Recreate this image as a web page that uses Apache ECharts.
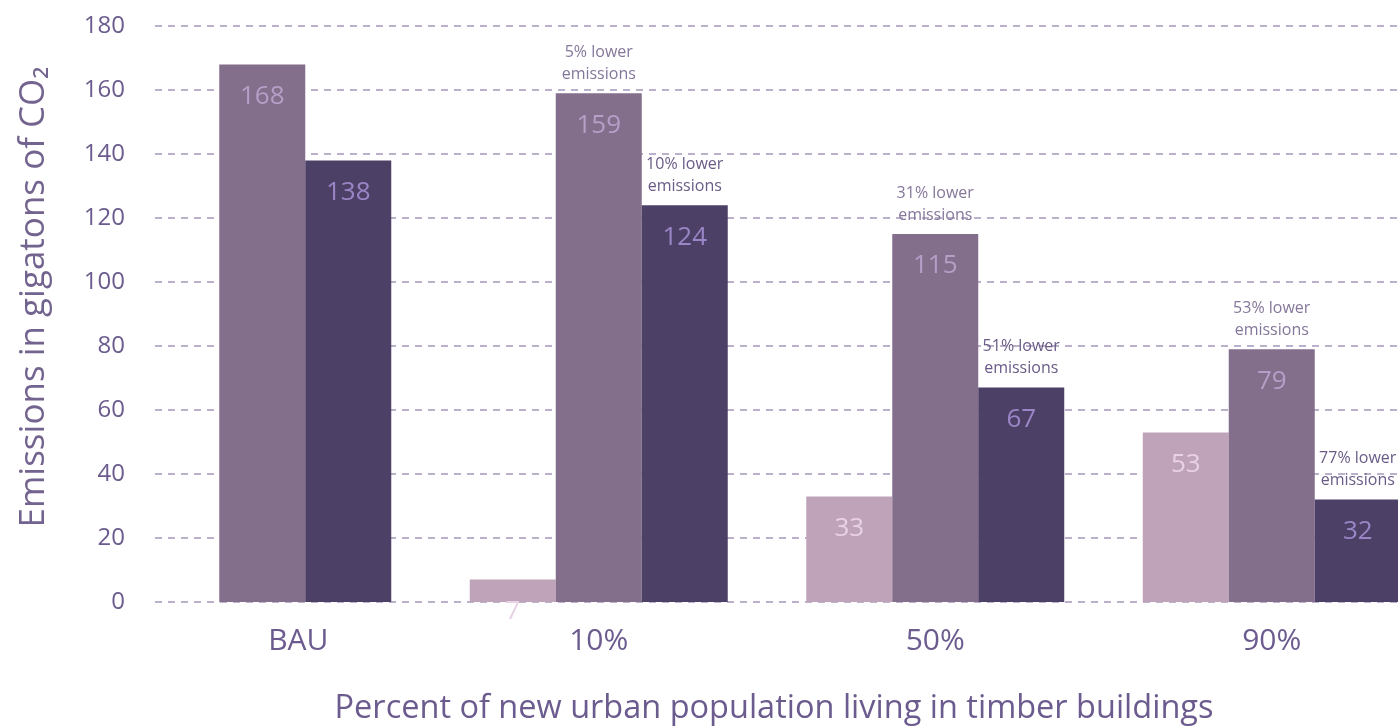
<!DOCTYPE html>
<html>
<head>
<meta charset="utf-8">
<script src="https://cdn.jsdelivr.net/npm/echarts@6/dist/echarts.min.js"></script>
<style>
  html,body{margin:0;padding:0;background:#fff;}
  #chart{width:1398px;height:727px;}
</style>
</head>
<body>
<div id="chart"></div>
<script>
// data
var categories = ['BAU', '10%', '50%', '90%'];
var lightVals  = [null, 7, 33, 53];
var mediumVals = [168, 159, 115, 79];
var darkVals   = [138, 124, 67, 32];
var mediumNotes = ['', '5% lower\nemissions', '31% lower\nemissions', '53% lower\nemissions'];
var darkNotes   = ['', '10% lower\nemissions', '51% lower\nemissions', '77% lower\nemissions'];
var yTicks = [0, 20, 40, 60, 80, 100, 120, 140, 160, 180];

var font = 'Open Sans';
var axisColor = '#6b5b8e';

function valueSeries(name, vals, color, labelColor){
	return {
		name: name,
		type: 'bar',
		xAxisIndex: 0,
		yAxisIndex: 0,
		data: vals,
		barWidth: 86,
		barGap: 0,
		itemStyle: {color: color},
		label: {
			show: true,
			position: 'insideTop',
			distance: 19,
			fontFamily: font,
			fontSize: 26,
			color: labelColor
		},
		z: 3
	};
}

// transparent copies of the bars, on a second hidden axis, only to carry the notes
function noteSeries(vals, notes, color){
	return {
		type: 'bar',
		xAxisIndex: 1,
		yAxisIndex: 0,
		data: vals,
		barWidth: 86,
		barGap: 0,
		silent: true,
		itemStyle: {color: 'rgba(0,0,0,0)'},
		label: {
			show: true,
			position: 'top',
			distance: 8,
			fontFamily: font,
			fontSize: 16,
			lineHeight: 22,
			color: color,
			formatter: function(p){ return notes ? notes[p.dataIndex] : ''; }
		},
		z: 4
	};
}

var chart = echarts.init(document.getElementById('chart'));
var option = {
	animation: false,
	grid: [
		{left: 94, right: -42, top: 26, bottom: 125, containLabel: false, outerBoundsMode: 'none'},
		{left: 155, right: 0, top: 26, bottom: 125, containLabel: false, outerBoundsMode: 'none'}
	],
	xAxis: [
		{
			type: 'category',
			gridIndex: 0,
			data: categories,
			axisLine: {show: false},
			axisTick: {show: false},
			axisLabel: {
				margin: 24,
				fontFamily: font,
				fontSize: 30,
				color: axisColor,
				formatter: function(v){ return v === 'BAU' ? '{bau|' + v + '}' : v; },
				rich: {
					bau: {fontFamily: font, fontSize: 30, color: axisColor, padding: [0, 0, 0, 72]}
				}
			},
			name: 'Percent of new urban population living in timber buildings',
			nameLocation: 'middle',
			nameGap: 90,
			nameTextStyle: {fontFamily: font, fontSize: 32.5, color: axisColor, padding: [0, 0, 0, 14]}
		},
		{
			type: 'category',
			gridIndex: 0,
			data: categories,
			show: false
		},
		{
			type: 'value',
			gridIndex: 1,
			show: false
		}
	],
	yAxis: [
		{
			type: 'value',
			gridIndex: 0,
			min: 0,
			max: 180,
			interval: 20,
			show: false
		},
		{
			type: 'value',
			gridIndex: 1,
			min: yTicks[0],
			max: yTicks[yTicks.length - 1],
			interval: 20,
			axisLine: {show: false},
			axisTick: {show: false},
			axisLabel: {margin: 30, fontFamily: font, fontSize: 24, color: axisColor},
			splitLine: {
				show: true,
				lineStyle: {color: '#a598bd', width: 1.5, type: [7, 6]}
			},
			name: 'Emissions in gigatons of CO\u2082',
			nameLocation: 'middle',
			nameGap: 103,
			nameTextStyle: {fontFamily: font, fontSize: 35, color: '#73648f', padding: [0, 0, 0, 34]}
		}
	],
	series: [
		valueSeries('light', lightVals, '#bfa3b9', '#e9d2e5'),
		valueSeries('medium', mediumVals, '#836f8b', '#b59fc7'),
		valueSeries('dark', darkVals, '#4c4066', '#9a85c6'),
		noteSeries(lightVals, null, '#8a7b9b'),
		noteSeries(mediumVals, mediumNotes, '#85779a'),
		noteSeries(darkVals, darkNotes, '#6a5b87')
	]
};
chart.setOption(option);
</script>
</body>
</html>
